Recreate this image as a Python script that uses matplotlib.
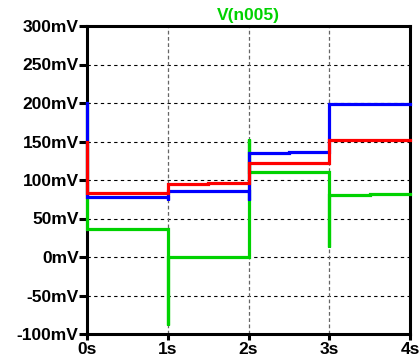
import matplotlib
matplotlib.use("Agg")
import matplotlib.pyplot as plt

# Step waveforms: (time in s, voltage in mV) vertices
green_t = [0, 0, 1, 1, 1, 2, 2, 2, 3, 3, 3, 3.5, 3.5, 4]
green_v = [200, 37, 37, -88, 0, 0, 153, 111, 111, 13, 80, 80, 82, 82]

blue_t = [0, 0, 1, 1, 1, 2, 2, 2, 2.5, 2.5, 3, 3, 4]
blue_v = [200, 78, 78, 74, 86, 86, 74, 134.5, 134.5, 137, 137, 199, 199]

red_t = [0, 0, 1, 1, 1.5, 1.5, 2, 2, 3, 3, 4]
red_v = [150, 82.5, 82.5, 94.5, 94.5, 96.5, 96.5, 122, 122, 152, 152]

x_ticks = [0, 1, 2, 3, 4]
x_labels = ["0s", "1s", "2s", "3s", "4s"]
y_ticks = [-100, -50, 0, 50, 100, 150, 200, 250, 300]
y_labels = ["-100mV", "-50mV", "0mV", "50mV", "100mV", "150mV", "200mV", "250mV", "300mV"]
title = "V(n005)"

GREEN = "#00d200"
BLUE = "#0000ff"
RED = "#ff0000"

plt.rcParams["font.family"] = ["Liberation Sans", "DejaVu Sans"]

fig = plt.figure(figsize=(4.2, 3.6), dpi=100)
ax = fig.add_axes([87 / 420, 1 - 334 / 360, (410 - 87) / 420, (334 - 26) / 360])

lw = 2.3
ax.plot(green_t, green_v, color=GREEN, lw=lw, solid_joinstyle="miter", zorder=7, clip_on=False)
ax.plot(blue_t, blue_v, color=BLUE, lw=lw, solid_joinstyle="miter", zorder=8, clip_on=False)
ax.plot(red_t, red_v, color=RED, lw=lw, solid_joinstyle="miter", zorder=9, clip_on=False)

ax.set_xlim(0, 4)
ax.set_ylim(-100, 300)
ax.set_xticks(x_ticks)
ax.set_xticklabels(x_labels, fontweight="bold", fontsize=12.5)
ax.set_yticks(y_ticks)
ax.set_yticklabels(y_labels, fontweight="bold", fontsize=12.5)

# dashed grid, excluding the frame edges
for y in y_ticks[1:-1]:
    ax.axhline(y, color="black", lw=0.8, ls=(0, (3, 3)), zorder=1)
for x in x_ticks[1:-1]:
    ax.axvline(x, color="#666666", lw=0.9, ls=(0, (3, 2)), zorder=1)

for s in ax.spines.values():
    s.set_linewidth(2.2)
    s.set_color("black")
    s.set_zorder(6)

ax.tick_params(axis="y", direction="out", length=6, width=2.2, pad=0)
ax.tick_params(axis="x", direction="out", length=4, width=2.2, pad=2)

ax.set_title(title, color=GREEN, fontweight="bold", fontsize=12.5, pad=4)

fig.savefig("out.png", dpi=100)
